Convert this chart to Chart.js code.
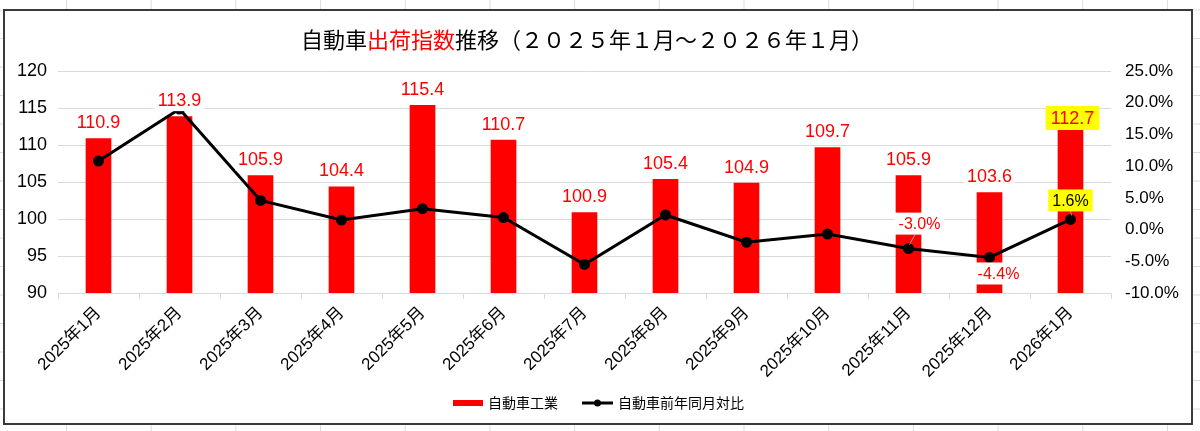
<!DOCTYPE html>
<html>
<head>
<meta charset="utf-8">
<script src="https://cdn.jsdelivr.net/npm/chart.js@4"></script>
<style>
  html, body { margin: 0; padding: 0; }
  body {
    width: 1200px; height: 431px; overflow: hidden; position: relative;
    background-color: #fff;
    background-image: linear-gradient(to right, #dcdcdc 1px, transparent 1px),
                      linear-gradient(to bottom, #dcdcdc 1px, transparent 1px);
    background-size: 84.7px 28.5px;
    background-position: 66px 38px;
  }
  #frame {
    position: absolute; left: 3px; top: 9px; width: 1190px; height: 416px;
    box-sizing: border-box; border: 2px solid #3a3a3a; background: #fff;
  }
  #wrap { position: absolute; left: 0; top: 0; width: 1200px; height: 431px; }
</style>
</head>
<body>
<div id="frame"></div>
<div id="wrap"><canvas id="chart"></canvas></div>
<script>
// 自動車出荷指数推移 (2025年1月〜2026年1月)

const months = ['2025年1月', '2025年2月', '2025年3月', '2025年4月', '2025年5月', '2025年6月',
  '2025年7月', '2025年8月', '2025年9月', '2025年10月', '2025年11月', '2025年12月', '2026年1月'];
const shipIndex = [110.9, 113.9, 105.9, 104.4, 115.4, 110.7, 100.9, 105.4, 104.9, 109.7, 105.9, 103.6, 112.7];
const yoyPct = [10.8, 19.0, 4.6, 1.5, 3.3, 1.9, -5.5, 2.3, -2.0, -0.7, -3.0, -4.4, 1.6];
const seriesNames = ['自動車工業', '自動車前年同月対比'];
const titleParts = [['自動車', '#000'], ['出荷指数', '#ff0000'], ['推移（２０２５年１月～２０２６年１月）', '#000']];

const latin = "'Liberation Sans', Arial, 'Noto Sans CJK JP', sans-serif";
const cjk = "'Noto Sans CJK JP', 'Noto Sans CJK SC', sans-serif";

// which line points get a label, and how they look
const yoyLabelStyle = {
  10: { dx: 11, dy: -25, color: '#ff0000', bg: '#ffffff', leader: true },
  11: { dx: 9, dy: 16, color: '#ff0000', bg: '#ffffff', leader: false },
  12: { dx: 0, dy: -19, color: '#000000', bg: '#ffff00', leader: true }
};

function box(ctx, text, cx, cy, font, color, bg, padX, h) {
  ctx.font = font;
  const w = ctx.measureText(text).width + padX * 2;
  ctx.fillStyle = bg;
  ctx.fillRect(cx - w / 2, cy - h / 2, w, h);
  ctx.fillStyle = color;
  ctx.textAlign = 'center';
  ctx.textBaseline = 'middle';
  ctx.fillText(text, cx, cy + 1);
}

const labelsPlugin = {
  id: 'valueLabels',
  afterDatasetsDraw(chart) {
    const ctx = chart.ctx;
    ctx.save();
    const lineMeta = chart.getDatasetMeta(0);
    const barMeta = chart.getDatasetMeta(1);

    // line labels
    Object.keys(yoyLabelStyle).forEach(k => {
      const i = +k, s = yoyLabelStyle[k];
      const p = lineMeta.data[i];
      const cx = p.x + s.dx, cy = p.y + s.dy;
      if (s.leader) {
        ctx.strokeStyle = '#a0a0a0';
        ctx.lineWidth = 1;
        ctx.beginPath();
        ctx.moveTo(p.x + 1, p.y - 4);
        ctx.lineTo(cx - (s.dx ? 4 : 0), cy + 10);
        ctx.stroke();
      }
      box(ctx, yoyPct[i].toFixed(1) + '%', cx, cy, '16px ' + latin, s.color, s.bg, 4, 22);
    });

    // bar labels
    barMeta.data.forEach((b, i) => {
      const last = i === shipIndex.length - 1;
      box(ctx, shipIndex[i].toFixed(1), b.x + (last ? 2 : 0), b.y + (last ? -7 : -16),
        '18px ' + latin, '#ff0000', last ? '#ffff00' : '#ffffff', last ? 5 : 3, last ? 24 : 22);
    });
    ctx.restore();
  },
  afterDraw(chart) {
    const ctx = chart.ctx;
    ctx.save();
    // title
    ctx.font = '22px ' + cjk;
    ctx.textBaseline = 'middle';
    ctx.textAlign = 'left';
    const total = titleParts.reduce((s, p) => s + ctx.measureText(p[0]).width, 0);
    let x = 587 - total / 2;
    titleParts.forEach(p => {
      ctx.fillStyle = p[1];
      ctx.fillText(p[0], x, 40);
      x += ctx.measureText(p[0]).width;
    });

    // legend
    const ly = 403;
    ctx.font = '14px ' + cjk;
    ctx.fillStyle = '#ff0000';
    ctx.fillRect(453, ly - 3, 30, 6);
    ctx.fillStyle = '#000';
    ctx.fillText(seriesNames[0], 488, ly);
    ctx.strokeStyle = '#000';
    ctx.lineWidth = 3;
    ctx.beginPath();
    ctx.moveTo(582, ly);
    ctx.lineTo(613, ly);
    ctx.stroke();
    ctx.beginPath();
    ctx.arc(597.5, ly, 3.5, 0, Math.PI * 2);
    ctx.fill();
    ctx.fillText(seriesNames[1], 618, ly);
    ctx.restore();
  }
};

new Chart(document.getElementById('chart'), {
  data: {
    labels: months,
    datasets: [
      {
        type: 'line',
        label: seriesNames[1],
        data: yoyPct,
        yAxisID: 'y1',
        borderColor: '#000',
        backgroundColor: '#000',
        borderWidth: 3,
        pointRadius: 4,
        pointBackgroundColor: '#000',
        tension: 0,
        order: 1
      },
      {
        type: 'bar',
        label: seriesNames[0],
        data: shipIndex,
        yAxisID: 'y',
        backgroundColor: '#ff0000',
        barPercentage: 1,
        categoryPercentage: 0.317,
        order: 2
      }
    ]
  },
  options: {
    responsive: true,
    maintainAspectRatio: false,
    animation: false,
    layout: { padding: { top: 71, left: 0, right: 0, bottom: 0 } },
    plugins: {
      legend: { display: false },
      title: { display: false },
      tooltip: { enabled: false }
    },
    scales: {
      x: {
        offset: true,
        grid: { drawOnChartArea: false, color: '#d9d9d9', tickLength: 6 },
        border: { color: '#d9d9d9' },
        ticks: { color: '#000', font: { size: 17, family: latin }, maxRotation: 45, minRotation: 45, autoSkip: false, padding: 4 },
        afterFit(s) { s.height = 138; }
      },
      y: {
        position: 'left',
        min: 90, max: 120,
        ticks: { stepSize: 5, color: '#000', font: { size: 18, family: latin }, padding: 11 },
        grid: { color: '#d9d9d9', drawTicks: false },
        border: { display: false },
        afterFit(s) { s.width = 58; }
      },
      y1: {
        position: 'right',
        min: -10, max: 25,
        ticks: { stepSize: 5, color: '#000', font: { size: 17, family: latin }, padding: 14,
          callback: v => v.toFixed(1) + '%' },
        grid: { display: false, drawTicks: false },
        border: { display: false },
        afterFit(s) { s.width = 89; }
      }
    }
  },
  plugins: [labelsPlugin]
});
</script>
</body>
</html>
